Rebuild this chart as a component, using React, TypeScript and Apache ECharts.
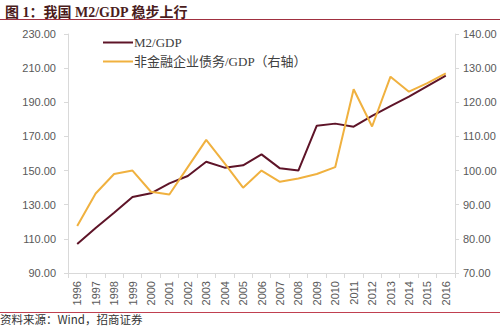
import React, { useEffect, useRef } from "react";
import * as echarts from "echarts";

const years = ["1996","1997","1998","1999","2000","2001","2002","2003","2004","2005","2006","2007","2008","2009","2010","2011","2012","2013","2014","2015","2016"];
const m2Gdp = [107, 116.4, 125.3, 134.5, 136.7, 142.5, 146.8, 155.2, 151.7, 153.1, 159.5, 151.3, 150, 176.3, 177.5, 175.7, 182, 187.8, 193.3, 199.5, 205.6];
const debtGdp = [83.8, 93.3, 99, 100, 93.8, 93, 101, 109, 102.1, 95, 100, 96.7, 97.7, 99, 101, 123.8, 112.9, 127.5, 123.1, 125.6, 128.5];
const titleText = "图 1：我国 M2/GDP 稳步上行";
const sourceText = "资料来源：Wind，招商证券";
const seriesNames = ["M2/GDP", "非金融企业债务/GDP（右轴）"];

export default function App() {
  const ref = useRef<HTMLDivElement>(null);
  useEffect(() => {
    const chart = echarts.init(ref.current!, null, { renderer: "svg" });
    const axisLabel = { color: "#595959", fontSize: 11, fontFamily: "Liberation Sans, Arial, sans-serif" };
    chart.setOption({
      animation: false,
      backgroundColor: "#ffffff",
      grid: { left: 68, right: 45, top: 34, bottom: 53 },
      title: {
        text: titleText,
        left: 0,
        top: 0,
        textStyle: { fontSize: 14, fontWeight: "bold", color: "#4a1c1c", fontFamily: "Liberation Serif, Noto Sans CJK SC" },
      },
      legend: {
        left: 98,
        top: 31,
        orient: "vertical",
        itemGap: 6,
        itemWidth: 30,
        itemHeight: 2,
        icon: "rect",
        textStyle: { fontSize: 13, color: "#404040", fontFamily: "Liberation Serif, Noto Sans CJK SC", padding: [0, 0, 0, -4] },
        data: seriesNames,
      },
      graphic: [
        { type: "line", shape: { x1: 0, y1: 19.5, x2: 500, y2: 19.5 }, style: { stroke: "#a03040", lineWidth: 1 } },
        { type: "line", shape: { x1: 0, y1: 312.5, x2: 500, y2: 312.5 }, style: { stroke: "#c04050", lineWidth: 1 } },
        { type: "text", x: 0, y: 319, style: { text: sourceText, fontSize: 11.5, fill: "#333333", fontFamily: "Noto Sans CJK SC", verticalAlign: "middle" } },
      ],
      xAxis: {
        type: "category",
        data: years,
        boundaryGap: true,
        axisLine: { lineStyle: { color: "#d9d9d9" } },
        axisTick: { show: true, lineStyle: { color: "#d9d9d9" } },
        axisLabel: { ...axisLabel, rotate: 90, margin: 8, interval: 0 },
      },
      yAxis: [
        {
          type: "value",
          min: 90,
          max: 230,
          interval: 20,
          axisLine: { show: true, lineStyle: { color: "#d9d9d9" } },
          axisTick: { show: true, length: 4, lineStyle: { color: "#d9d9d9" } },
          splitLine: { show: false },
          axisLabel: { ...axisLabel, margin: 12, formatter: (v: number) => v.toFixed(2) },
        },
        {
          type: "value",
          min: 70,
          max: 140,
          interval: 10,
          axisLine: { show: true, lineStyle: { color: "#d9d9d9" } },
          axisTick: { show: true, length: 4, lineStyle: { color: "#d9d9d9" } },
          splitLine: { show: false },
          axisLabel: { ...axisLabel, margin: 8, formatter: (v: number) => v.toFixed(2) },
        },
      ],
      series: [
        {
          name: seriesNames[0],
          type: "line",
          data: m2Gdp,
          yAxisIndex: 0,
          symbol: "none",
          lineStyle: { color: "#5e1428", width: 2 },
          itemStyle: { color: "#5e1428" },
        },
        {
          name: seriesNames[1],
          type: "line",
          data: debtGdp,
          yAxisIndex: 1,
          symbol: "none",
          lineStyle: { color: "#f0b13f", width: 2 },
          itemStyle: { color: "#f0b13f" },
        },
      ],
    });
    return () => chart.dispose();
  }, []);
  return <div ref={ref} style={{ width: 500, height: 326, position: "absolute", left: 0, top: 0 }} />;
}
